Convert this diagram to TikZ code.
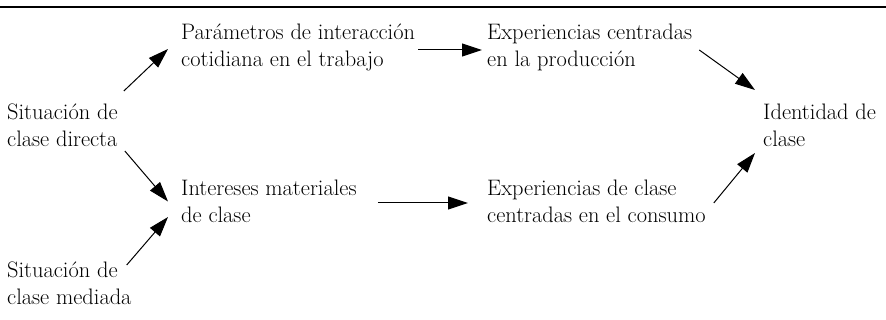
\documentclass[tikz,border=0pt]{standalone}
\usepackage{tikz}
\usetikzlibrary{arrows, arrows.meta}

\tikzset{
  lbl/.style={anchor=west, align=left, inner sep=0pt, font=\fontsize{22.4}{27}\selectfont},
  flecha/.style={-{Triangle[length=20pt,width=13pt]}, line width=1pt}
}

\begin{document}
\begin{tikzpicture}[x=1pt,y=1pt]
\useasboundingbox (0,0) rectangle (886,320);
\draw[line width=1.5pt] (0,313) -- (886,313); %top rule

% text blocks
\node[lbl] (param) at (181,273) {Parámetros de interacción\\cotidiana en el trabajo};
\node[lbl] (prod) at (487,273) {Experiencias centradas\\en la producción};
\node[lbl] (directa) at (7,194.5) {Situación de\\clase directa};
\node[lbl] (ident) at (763,195) {Identidad de\\clase};
\node[lbl] (interes) at (181,118.5) {Intereses materiales\\de clase};
\node[lbl] (consumo) at (487,119) {Experiencias de clase\\centradas en el consumo};
\node[lbl] (mediada) at (7,36.5) {Situación de\\clase mediada};

% arrows
\draw[flecha] ([xshift=6pt,yshift=34.5pt]directa.east) -- ([xshift=-13pt,yshift=-2pt]param.west);
\draw[flecha] ([xshift=3pt,yshift=-3pt]param.east) -- ([xshift=-5pt,yshift=-3pt]prod.west);
\draw[flecha] ([xshift=7pt,yshift=-3pt]prod.east) -- ([xshift=-8pt,yshift=35pt]ident.west);
\draw[flecha] ([xshift=7pt,yshift=-25.5pt]directa.east) -- ([xshift=-13pt]interes.west);
\draw[flecha] ([xshift=-5pt,yshift=18.5pt]mediada.east) -- ([xshift=-13pt,yshift=-15.5pt]interes.west);
\draw[flecha] ([xshift=21pt,yshift=-1.5pt]interes.east) -- ([xshift=-19pt,yshift=-2pt]consumo.west);
\draw[flecha] ([xshift=8pt,yshift=-2pt]consumo.east) -- ([xshift=-8pt,yshift=-28pt]ident.west);
\end{tikzpicture}
\end{document}
